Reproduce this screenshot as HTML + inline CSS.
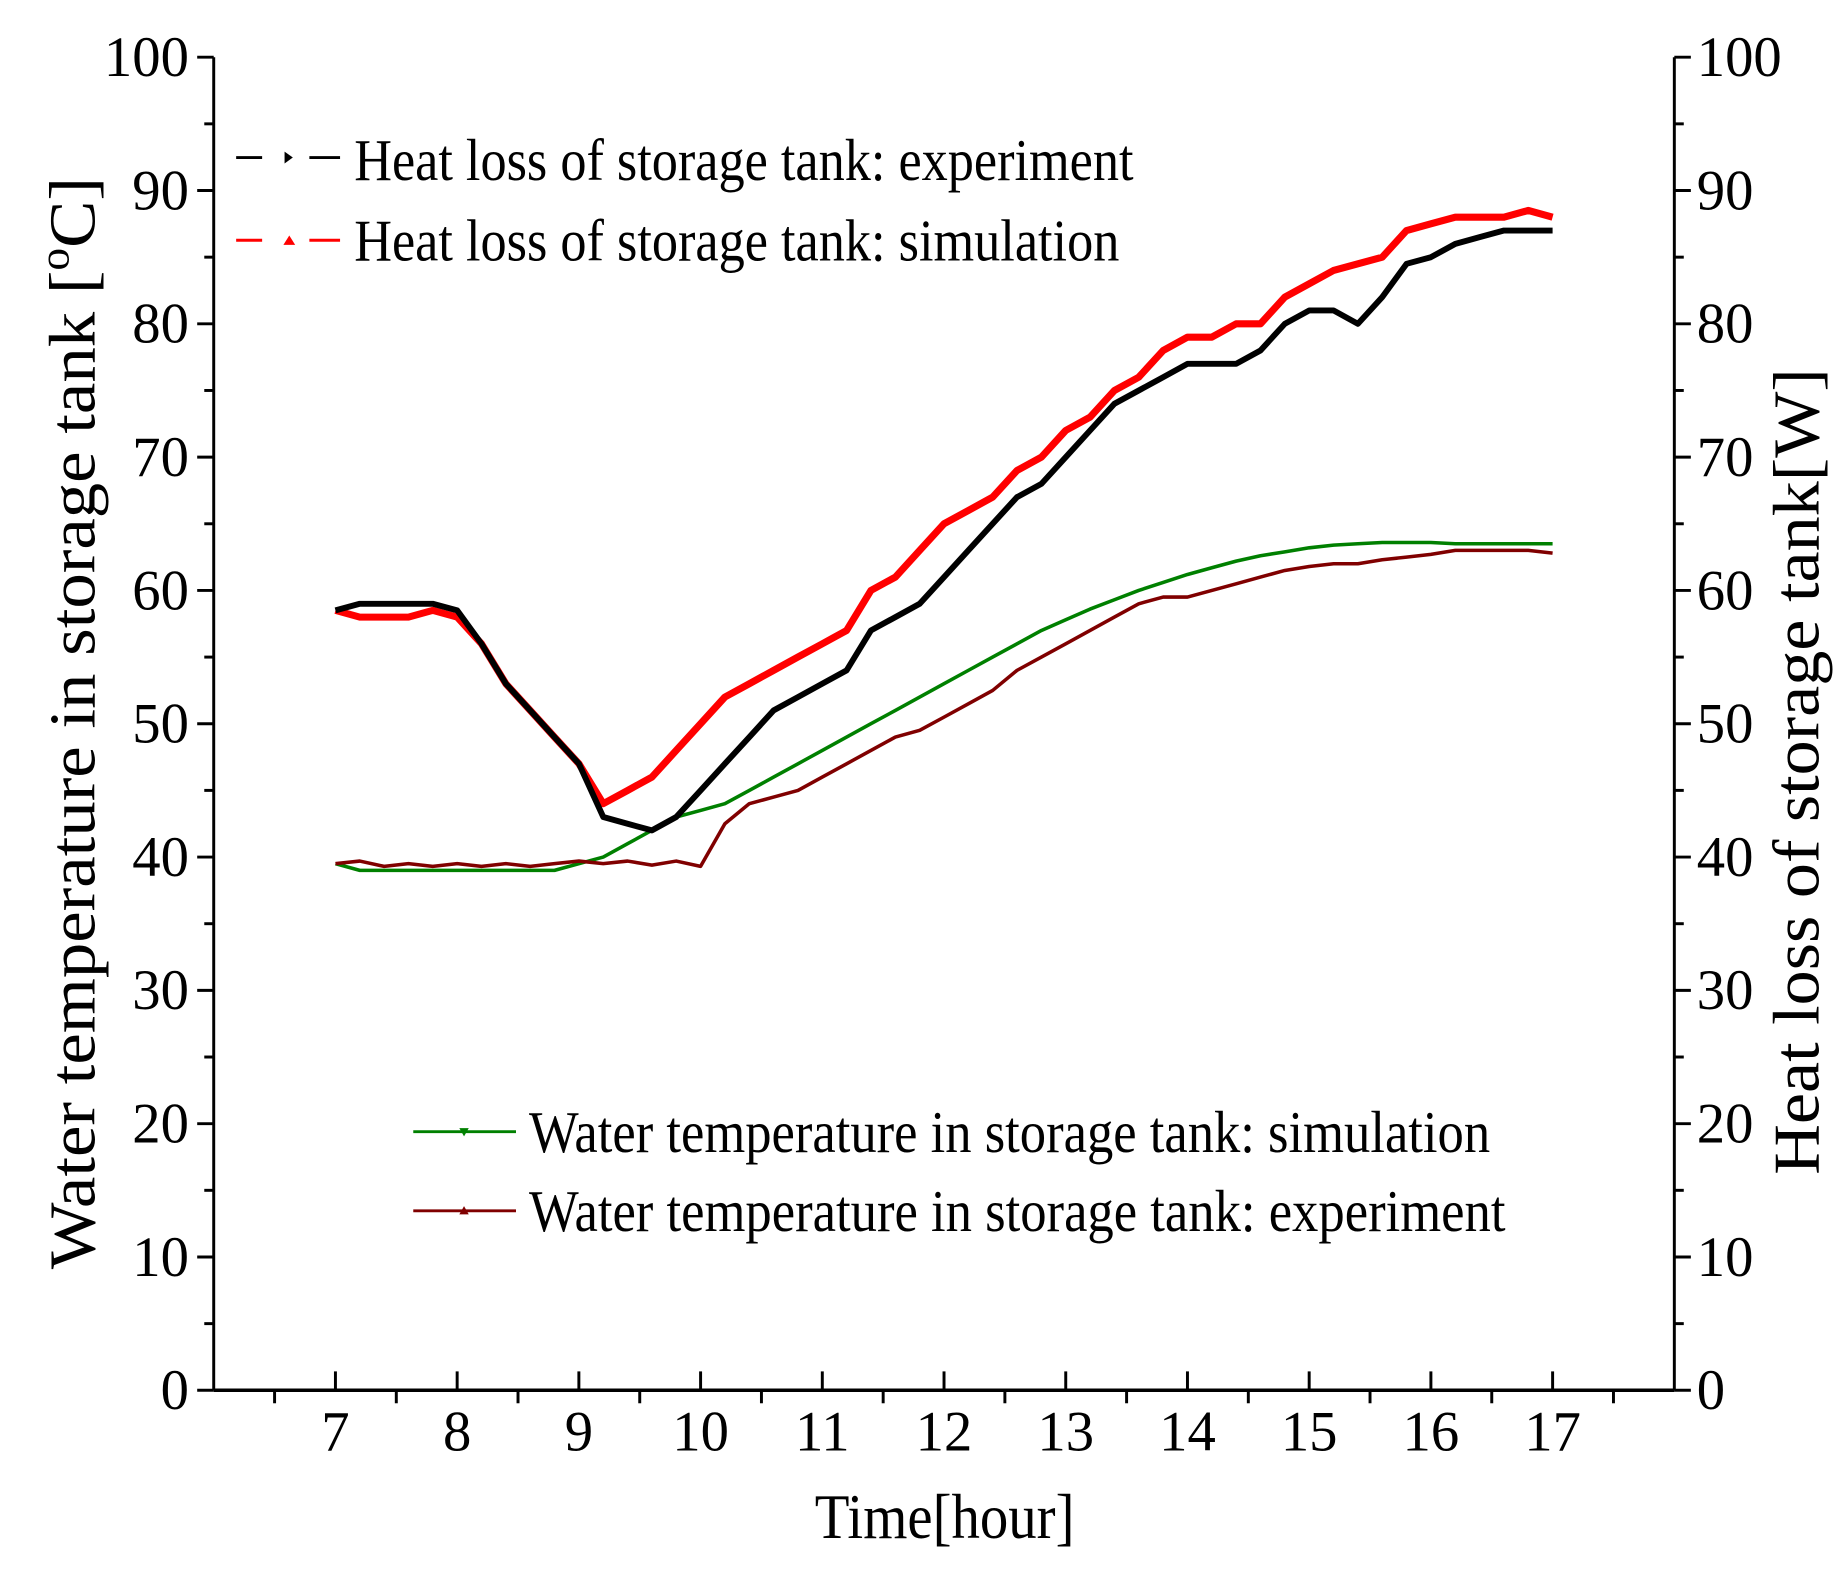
<!DOCTYPE html>
<html><head><meta charset="utf-8"><style>html,body{margin:0;padding:0;background:#fff}svg{display:block}text{font-family:"Liberation Serif",serif}</style></head>
<body>
<svg id="chart" width="1842" height="1575" viewBox="0 0 1560 1333" xmlns="http://www.w3.org/2000/svg">
<g id="axes"></g>
<g id="series"></g>
<g id="legend">
  <line x1="200" y1="133" x2="222" y2="133" stroke="#000" stroke-width="2.5"/>
  <polygon points="241,128 248,133 241,138" fill="#000"/>
  <line x1="262" y1="133" x2="288" y2="133" stroke="#000" stroke-width="2.5"/>
  <text x="300" y="152" font-size="50" textLength="660" lengthAdjust="spacingAndGlyphs">Heat loss of storage tank: experiment</text>
  <line x1="200" y1="203" x2="222" y2="203" stroke="#f00" stroke-width="2.5"/>
  <polygon points="240,207 245,199 250,207" fill="#f00"/>
  <line x1="262" y1="203" x2="288" y2="203" stroke="#f00" stroke-width="2.5"/>
  <text x="300" y="220" font-size="50" textLength="648" lengthAdjust="spacingAndGlyphs">Heat loss of storage tank: simulation</text>
  <line x1="350" y1="958" x2="437" y2="958" stroke="#008000" stroke-width="2.5"/>
  <polygon points="389,955 397,955 393,962" fill="#008000"/>
  <text x="448" y="975" font-size="50" textLength="814" lengthAdjust="spacingAndGlyphs">Water temperature in storage tank: simulation</text>
  <line x1="350" y1="1025" x2="437" y2="1025" stroke="#800000" stroke-width="2.5"/>
  <polygon points="389,1028 397,1028 393,1021" fill="#800000"/>
  <text x="448" y="1042" font-size="50" textLength="827" lengthAdjust="spacingAndGlyphs">Water temperature in storage tank: experiment</text>
</g>
<text x="800" y="1302" font-size="54" text-anchor="middle" textLength="220" lengthAdjust="spacingAndGlyphs">Time[hour]</text>
<text transform="translate(80,612) rotate(-90)" font-size="56" text-anchor="middle" textLength="925" lengthAdjust="spacingAndGlyphs">Water temperature in storage tank [<tspan font-size="36" dy="-22">o</tspan><tspan dy="22">C]</tspan></text>
<text transform="translate(1540,653) rotate(-90)" font-size="56" text-anchor="middle" textLength="683" lengthAdjust="spacingAndGlyphs">Heat loss of storage tank[W]</text>
<script>
const times = [7.0,7.2,7.4,7.6,7.8,8.0,8.2,8.4,8.6,8.8,9.0,9.2,9.4,9.6,9.8,10.0,10.2,10.4,10.6,10.8,11.0,11.2,11.4,11.6,11.8,12.0,12.2,12.4,12.6,12.8,13.0,13.2,13.4,13.6,13.8,14.0,14.2,14.4,14.6,14.8,15.0,15.2,15.4,15.6,15.8,16.0,16.2,16.4,16.6,16.8,17.0];
const heatLossExp = [58.5,59,59,59,59,58.5,56,53,51,49,47,43,42.5,42,43,45,47,49,51,52,53,54,57,58,59,61,63,65,67,68,70,72,74,75,76,77,77,77,78,80,81,81,80,82,84.5,85,86,86.5,87,87,87];
const heatLossSim = [58.5,58,58,58,58.5,58,56,53,51,49,47,44,45,46,48,50,52,53,54,55,56,57,60,61,63,65,66,67,69,70,72,73,75,76,78,79,79,80,80,82,83,84,84.5,85,87,87.5,88,88,88,88.5,88];
const waterTempSim = [39.5,39,39,39,39,39,39,39,39,39,39.5,40,41,42,43,43.5,44,45,46,47,48,49,50,51,52,53,54,55,56,57,57.8,58.6,59.3,60,60.6,61.2,61.7,62.2,62.6,62.9,63.2,63.4,63.5,63.6,63.6,63.6,63.5,63.5,63.5,63.5,63.5];
const waterTempExp = [39.5,39.7,39.3,39.5,39.3,39.5,39.3,39.5,39.3,39.5,39.7,39.5,39.7,39.4,39.7,39.3,42.5,44,44.5,45,46,47,48,49,49.5,50.5,51.5,52.5,54,55,56,57,58,59,59.5,59.5,60,60.5,61,61.5,61.8,62,62,62.3,62.5,62.7,63,63,63,63,62.8];
const xTicks = [7,8,9,10,11,12,13,14,15,16,17];
const yTicks = [0,10,20,30,40,50,60,70,80,90,100];

const X0=181,X1=1418,Y0=1177,Y1=48;
function sx(t){return X0+(t-6)/(18-6)*(X1-X0);}
function sy(v){return Y0-v/100*(Y0-Y1);}
const NS="http://www.w3.org/2000/svg";
const axes=document.getElementById('axes');
function mk(tag,attrs,parent){const e=document.createElementNS(NS,tag);for(const k in attrs)e.setAttribute(k,attrs[k]);parent.appendChild(e);return e;}
let l=mk('line',{x1:X0,y1:Y0,x2:X1,y2:Y0,stroke:'#000','stroke-width':3},axes);


l=mk('line',{x1:X0,y1:Y1,x2:X0,y2:Y0,stroke:'#000','stroke-width':2.5},axes);


l=mk('line',{x1:X1,y1:Y1,x2:X1,y2:Y0,stroke:'#000','stroke-width':2.5},axes);


for(let v=0;v<=100;v+=5){
  const y=sy(v),len=(v%10===0)?14:8;
  mk('line',{x1:X0-len,y1:y,x2:X0,y2:y,stroke:'#000','stroke-width':2.5},axes);
  mk('line',{x1:X1,y1:y,x2:X1+len,y2:y,stroke:'#000','stroke-width':2.5},axes);
}
yTicks.forEach(v=>{
  const t=mk('text',{x:160,y:sy(v)+16,'font-size':48,'text-anchor':'end'},axes);
  t.textContent=v;
  
  
  const t2=mk('text',{x:1437,y:sy(v)+16,'font-size':48,'text-anchor':'start'},axes);
  t2.textContent=v;
  
  
});
for(let h=6.5;h<18;h+=0.5){
  const x=sx(h);
  if(Math.abs(h-Math.round(h))<1e-6){ if(h>=7&&h<=17) mk('line',{x1:x,y1:Y0-16,x2:x,y2:Y0,stroke:'#000','stroke-width':2.5},axes); }
  else mk('line',{x1:x,y1:Y0,x2:x,y2:Y0+11,stroke:'#000','stroke-width':2.5},axes);
}
xTicks.forEach(h=>{
  const t=mk('text',{x:sx(h),y:1228,'font-size':48,'text-anchor':'middle'},axes);
  t.textContent=h;
  
  
});
const sg=document.getElementById('series');
function draw(vals,color,name,w){
  const d=vals.map((v,i)=>(i?'L':'M')+sx(times[i]).toFixed(1)+','+sy(v).toFixed(1)).join('');
  const p=mk('path',{d:d,fill:'none',stroke:color,'stroke-width':w,'stroke-linejoin':'round'},sg);
  
  
}
draw(waterTempSim,'#008000','water-temp-simulation-line',3);
draw(waterTempExp,'#800000','water-temp-experiment-line',3);
draw(heatLossSim,'#ff0000','heat-loss-simulation-line',6);
draw(heatLossExp,'#000000','heat-loss-experiment-line',5);
</script>
</svg>
</body></html>
